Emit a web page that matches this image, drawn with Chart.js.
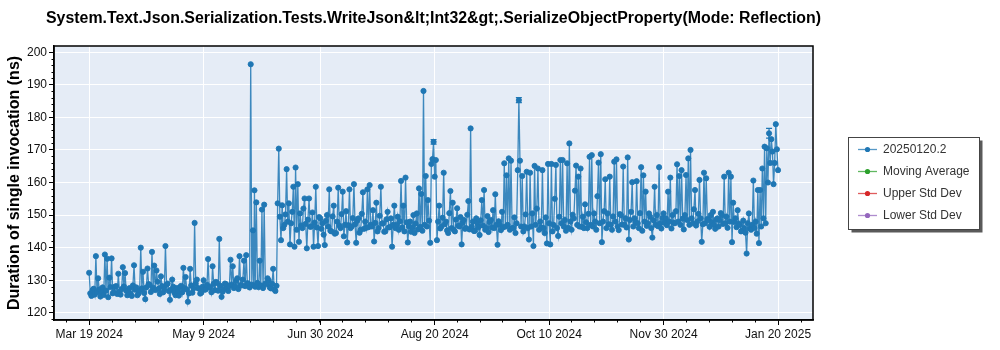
<!DOCTYPE html>
<html lang="en">
<head>
<meta charset="UTF-8">
<title>SerializeObjectProperty</title>
<script src="https://cdn.jsdelivr.net/npm/chart.js@4.4.1/dist/chart.umd.min.js"></script>
<style>
  html, body { margin: 0; padding: 0; background: #ffffff; }
</style>
</head>
<body>
<canvas id="perfChart" width="1000" height="350"></canvas>
<script>
// Benchmark results in ns, one array per month, one entry per day.
// Each entry lists that day's runs in order.
const mar2024 = [[132.3, 126.0], [125.2, 127.0], [127.4, 125.6], [137.4, 126.3], [130.6, 127.2], [125.0, 126.4], [127.8, 125.5], [137.9, 126.8], [136.6, 124.8], [130.8, 127.9],
  [136.7, 126.0], [126.4, 128.0], [128.2, 125.8]];
const apr2024 = [[132.0, 126.5], [125.6, 127.3], [134.0, 128.1], [132.2, 126.8], [125.4, 127.0], [127.6, 125.9], [125.2, 128.4], [134.6, 127.1], [127.8, 125.4], [125.9, 126.9],
  [140.0, 127.5], [132.6, 126.1], [124.2, 127.8], [133.6, 128.8], [128.6, 126.4], [138.7, 127.7], [134.5, 127.0], [133.0, 129.6], [127.4, 125.8], [131.2, 128.2],
  [126.3, 127.4], [140.5, 128.6], [129.0, 126.7], [124.0, 127.1], [130.2, 128.0], [126.2, 125.4], [127.6, 126.5], [125.3, 127.9], [128.3, 126.3], [133.8, 127.6]];
const may2024 = [[131.0, 127.2], [123.4, 126.0], [133.5, 128.4], [126.2, 127.5], [147.6, 129.0], [130.2, 127.6], [127.4, 125.9], [126.2, 128.0], [130.0, 127.1], [127.2, 128.6],
  [136.5, 127.8], [128.0, 126.3], [134.3, 128.9], [127.0, 129.5], [129.2, 126.8], [142.7, 128.3], [124.9, 126.5], [127.3, 129.0], [128.8, 127.4], [126.7, 128.2],
  [136.3, 128.7], [134.3, 127.6], [128.2, 129.8], [130.6, 127.3], [137.4, 128.5], [128.4, 130.2], [136.0, 128.2], [137.7, 129.1], [128.9, 127.8], [196.3, 128.6],
  [145.3, 128.4, 157.6]];
const jun2024 = [[128.0, 153.9], [129.2, 127.9], [136.0, 128.4], [151.7, 127.6], [153.2, 129.0], [128.8, 130.6], [130.0, 127.8], [127.5, 128.9], [133.5, 127.2], [126.7, 128.3],
  [153.6, 170.4], [149.5, 142.3], [153.0, 146.0], [147.0, 150.2], [164.1, 148.0], [153.6, 141.0], [147.5, 151.0], [158.7, 140.3], [164.6, 145.5], [159.5, 141.8],
  [150.5, 146.8], [146.0, 152.0], [155.1, 147.3], [139.8, 148.6], [155.1, 146.4], [146.5, 150.8], [140.3, 147.7], [158.7, 146.2], [140.5, 149.4], [149.0, 145.8]];
const jul2024 = [[147.5, 144.0], [140.8, 148.2], [150.0, 146.5], [157.9, 145.2], [145.0, 149.6], [152.9, 144.3], [144.5, 148.0], [158.4, 146.8], [146.0, 150.3], [157.2, 143.5],
  [147.0, 151.2], [141.6, 146.9], [157.9, 146.0], [146.5, 149.1], [159.5, 147.2], [141.5, 148.3], [149.0, 144.6], [145.5, 150.4], [157.0, 145.8], [148.0, 146.1],
  [157.9, 146.3], [159.2, 147.0], [146.5, 151.5], [141.9, 147.6], [153.8, 145.0], [146.0, 149.8], [158.7, 147.4], [147.5, 144.9], [145.0, 148.7], [151.0, 146.2],
  [146.3, 149.0]];
const aug2024 = [[140.3, 147.0], [152.9, 146.0], [147.0, 149.5], [145.5, 148.1], [160.5, 146.2], [152.9, 145.0], [161.5, 147.8], [141.6, 146.6], [148.0, 144.9], [146.2, 150.0],
  [144.5, 147.4], [150.5, 145.6], [158.2, 146.4], [156.5, 145.2], [188.1, 147.0], [162.0, 146.5], [154.6, 148.3], [141.5, 165.7], [167.2, 172.5], [161.8, 166.9],
  [142.3, 148.0], [152.9, 145.9], [146.5, 149.2], [163.0, 147.2], [148.0, 145.3], [144.5, 150.6], [157.4, 146.0], [153.8, 145.5], [145.0, 148.6], [152.1, 146.8],
  [146.5, 149.4]];
const sep2024 = [[141.0, 147.6], [148.5, 145.8], [146.0, 150.1], [154.3, 145.6], [176.6, 146.5], [148.0, 145.1], [145.2, 149.0], [147.5, 146.3], [143.9, 148.4], [154.6, 146.8],
  [157.7, 145.5], [146.0, 149.7], [144.8, 147.9], [148.5, 146.2], [151.5, 146.0], [156.4, 147.0], [140.9, 148.1], [147.0, 145.4], [151.0, 146.2], [165.9, 146.5],
  [162.2, 147.0], [167.4, 145.5], [166.7, 146.0], [146.0, 149.3], [144.5, 147.5], [163.8, 185.3], [166.7, 146.5], [162.0, 145.0], [146.5, 150.2], [163.3, 146.0]];
const oct2024 = [[142.5, 163.0], [146.5, 150.5], [140.5, 165.1], [147.0, 152.0], [164.3, 145.5], [148.0, 146.2], [163.8, 146.0], [144.5, 149.3], [141.3, 165.7], [147.5, 141.0],
  [165.7, 145.0], [147.0, 155.0], [165.4, 146.0], [143.6, 149.5], [166.9, 147.5], [166.9, 146.5], [148.5, 145.2], [165.9, 146.1], [172.0, 148.0], [145.5, 150.1],
  [149.0, 157.5], [165.2, 147.0], [161.8, 146.5], [164.3, 146.4], [149.5, 146.0], [153.3, 147.8], [146.0, 150.4], [167.9, 147.0], [168.4, 146.5], [150.5, 148.0],
  [145.5, 155.8]];
const nov2024 = [[166.1, 147.5], [168.7, 141.7], [148.0, 151.2], [161.0, 146.0], [150.5, 147.2], [161.8, 147.0], [145.5, 149.6], [166.4, 148.0], [167.1, 146.5], [145.4, 150.3],
  [150.0, 147.1], [164.9, 147.0], [149.0, 146.2], [167.7, 142.5], [148.5, 151.0], [160.1, 146.5], [149.0, 147.8], [160.4, 147.5], [146.0, 150.6], [164.7, 145.2],
  [162.2, 148.0], [157.2, 146.7], [147.5, 150.5], [149.5, 146.0], [143.1, 148.4], [158.7, 147.0], [150.0, 146.6], [164.7, 147.5], [145.9, 149.1], [150.5, 147.6]];
const dec2024 = [[149.0, 146.9], [157.2, 148.0], [161.5, 145.9], [150.0, 147.6], [147.5, 151.2], [165.6, 148.0], [162.0, 147.0], [163.8, 148.9], [145.6, 150.0], [162.3, 148.5],
  [167.4, 147.0], [170.0, 149.0], [147.5, 151.8], [157.7, 146.8], [148.0, 150.4], [160.8, 149.0], [141.8, 147.2], [163.0, 147.5], [161.3, 148.8], [148.5, 146.4],
  [150.0, 147.8], [151.0, 147.0], [145.8, 148.6], [149.0, 146.5], [148.5, 150.6], [150.0, 147.3], [161.8, 147.5], [149.5, 146.1], [163.0, 148.0], [161.8, 141.7],
  [153.8, 147.9]];
const jan2025 = [[149.0, 146.3], [151.5, 147.4], [147.0, 145.0], [145.2, 148.3], [146.0, 144.6], [138.2, 147.5], [150.5, 145.9], [145.5, 147.0], [160.6, 146.0], [148.0, 144.3],
  [157.7, 141.4], [157.7, 146.5], [164.3, 149.0], [171.0, 147.5], [170.5, 160.0], [175.1, 166.0], [173.3, 169.5], [159.5, 166.0], [177.9, 170.2], [163.8]];

// first day covered by each month array
const monthStarts = ['2024-03-19', '2024-04-01', '2024-05-01', '2024-06-01', '2024-07-01', '2024-08-01',
  '2024-09-01', '2024-10-01', '2024-11-01', '2024-12-01', '2025-01-01'];
const monthRuns = [mar2024, apr2024, may2024, jun2024, jul2024, aug2024, sep2024, oct2024, nov2024, dec2024, jan2025];

// runs whose spread is wide enough to show
const errorBars = [
  { value: 172.5, err: 0.7 },
  { value: 185.3, err: 0.8 },
  { value: 175.1, err: 1.5 }
];

const tickDates = ['2024-03-19', '2024-05-09', '2024-06-30', '2024-08-20', '2024-10-10', '2024-11-30', '2025-01-20'];
const tickLabels = ['Mar 19 2024', 'May 9 2024', 'Jun 30 2024', 'Aug 20 2024', 'Oct 10 2024', 'Nov 30 2024', 'Jan 20 2025'];
const yTicks = [120, 130, 140, 150, 160, 170, 180, 190, 200];

const chartTitle = 'System.Text.Json.Serialization.Tests.WriteJson&lt;Int32&gt;.SerializeObjectProperty(Mode: Reflection)';
const yTitle = 'Duration of single invocation (ns)';
const FONT = '"Liberation Sans", Arial, sans-serif';
const DAY = 86400000;

function toTime(d) { return Date.parse(d + 'T00:00:00Z'); }

const points = [];
monthStarts.forEach(function (start, m) {
  const t0 = toTime(start);
  monthRuns[m].forEach(function (runs, i) {
    runs.forEach(function (r, k) {
      points.push({ x: t0 + i * DAY + k * DAY / runs.length, y: r });
    });
  });
});

const plotDecor = {
  id: 'plotDecor',
  beforeDraw(chart) {
    const a = chart.chartArea, ctx = chart.ctx;
    ctx.save();
    ctx.fillStyle = '#e5ecf6';
    ctx.fillRect(a.left, a.top, a.right - a.left, a.bottom - a.top);
    ctx.restore();
  },
  afterDatasetsDraw(chart) {
    const ctx = chart.ctx, xs = chart.scales.x, ys = chart.scales.y;
    ctx.save();
    ctx.strokeStyle = '#1f77b4';
    ctx.lineWidth = 1.2;
    errorBars.forEach(function (e) {
      const p = points.find(function (pt) { return pt.y === e.value; });
      if (!p) return;
      const x = xs.getPixelForValue(p.x);
      const y1 = ys.getPixelForValue(e.value - e.err);
      const y2 = ys.getPixelForValue(e.value + e.err);
      ctx.beginPath();
      ctx.moveTo(x, y1); ctx.lineTo(x, y2);
      ctx.moveTo(x - 3, y1); ctx.lineTo(x + 3, y1);
      ctx.moveTo(x - 3, y2); ctx.lineTo(x + 3, y2);
      ctx.stroke();
    });
    ctx.restore();
  },
  afterDraw(chart) {
    const a = chart.chartArea, ctx = chart.ctx, xs = chart.scales.x, ys = chart.scales.y;
    ctx.save();

    // frame around the data area
    ctx.strokeStyle = '#000';
    ctx.lineWidth = 1.5;
    ctx.strokeRect(a.left, a.top, a.right - a.left, a.bottom - a.top);

    // minor ticks
    ctx.lineWidth = 1;
    ctx.beginPath();
    for (let v = 118; v <= 201; v += 2) {
      if (v % 10 === 0) continue;
      const y = Math.round(ys.getPixelForValue(v)) + 0.5;
      ctx.moveTo(a.left - 2.5, y); ctx.lineTo(a.left, y);
    }
    const majors = tickDates.map(function (d) { return xs.getPixelForValue(toTime(d)); });
    const step = (majors[majors.length - 1] - majors[0]) / (majors.length - 1) / 5;
    for (let x = majors[0] - step * 10; x < a.right; x += step) {
      if (x <= a.left) continue;
      const nearMajor = majors.some(function (m) { return Math.abs(m - x) < 1; });
      if (nearMajor) continue;
      const px = Math.round(x) + 0.5;
      ctx.moveTo(px, a.bottom); ctx.lineTo(px, a.bottom + 2.5);
    }
    ctx.stroke();

    // title
    ctx.fillStyle = '#000';
    ctx.font = 'bold 16px ' + FONT;
    ctx.textAlign = 'center';
    ctx.textBaseline = 'middle';
    ctx.fillText(chartTitle, (a.left + a.right) / 2, 19, 775);

    // legend box with drop shadow
    const bx = 848.5, by = 137.5, bw = 131, bh = 92;
    ctx.fillStyle = '#5a5a5a';
    ctx.fillRect(bx + 3, by + 3, bw, bh);
    ctx.fillStyle = '#fff';
    ctx.fillRect(bx, by, bw, bh);
    ctx.strokeStyle = '#444';
    ctx.lineWidth = 1;
    ctx.strokeRect(bx, by, bw, bh);
    ctx.font = '12px ' + FONT;
    ctx.textAlign = 'left';
    chart.data.datasets.forEach(function (ds, i) {
      const y = 149.5 + i * 22;
      ctx.strokeStyle = ds.legendColor;
      ctx.globalAlpha = 0.75;
      ctx.lineWidth = 1.3;
      ctx.beginPath();
      ctx.moveTo(858, y); ctx.lineTo(877, y);
      ctx.stroke();
      ctx.globalAlpha = 1;
      ctx.fillStyle = ds.legendColor;
      ctx.beginPath();
      ctx.arc(867.5, y, 2.6, 0, Math.PI * 2);
      ctx.fill();
      ctx.fillStyle = '#333';
      ctx.fillText(ds.label, 883, y + 0.5);
    });
    ctx.restore();
  }
};

const ctx = document.getElementById('perfChart').getContext('2d');
const chart = new Chart(ctx, {
  type: 'line',
  data: {
    datasets: [
      {
        label: '20250120.2',
        data: points,
        legendColor: '#1f77b4',
        borderColor: 'rgba(31, 119, 180, 0.85)',
        borderWidth: 1.3,
        pointRadius: 2.6,
        pointBorderWidth: 1,
        pointBackgroundColor: '#1f77b4',
        pointBorderColor: 'rgba(31, 119, 180, 0.9)',
        tension: 0
      },
      { label: 'Moving Average', data: [], legendColor: '#2ca02c', borderColor: '#2ca02c' },
      { label: 'Upper Std Dev', data: [], legendColor: '#d62728', borderColor: '#d62728' },
      { label: 'Lower Std Dev', data: [], legendColor: '#9467bd', borderColor: '#9467bd' }
    ]
  },
  options: {
    responsive: false,
    animation: false,
    devicePixelRatio: 1,
    layout: { padding: { top: 46, right: 187, bottom: 0, left: 0 } },
    plugins: {
      legend: { display: false },
      tooltip: { enabled: false },
      title: { display: false }
    },
    scales: {
      x: {
        type: 'linear',
        min: Date.parse('2024-03-03T08:00:00Z'),
        max: Date.parse('2025-02-04T14:00:00Z'),
        afterBuildTicks: function (s) { s.ticks = tickDates.map(function (d) { return { value: toTime(d) }; }); },
        afterFit: function (s) { s.height = 30; },
        ticks: {
          autoSkip: false,
          maxRotation: 0,
          padding: 2,
          color: '#111',
          font: { family: FONT, size: 12 },
          callback: function (v, i) { return tickLabels[i]; }
        },
        grid: { color: '#ffffff', lineWidth: 1, tickColor: '#000', tickLength: 5 },
        border: { display: true, color: '#000', width: 1.5 }
      },
      y: {
        min: 117.8,
        max: 201.9,
        afterBuildTicks: function (s) { s.ticks = yTicks.map(function (v) { return { value: v }; }); },
        afterFit: function (s) { s.width = 54; },
        ticks: {
          padding: 2,
          color: '#111',
          font: { family: FONT, size: 12 }
        },
        title: {
          display: true,
          text: yTitle,
          color: '#000',
          font: { family: FONT, size: 16, weight: 'bold' },
          padding: { top: 5, bottom: 0 }
        },
        grid: { color: '#ffffff', lineWidth: 1, tickColor: '#000', tickLength: 5 },
        border: { display: true, color: '#000', width: 1.5 }
      }
    }
  },
  plugins: [plotDecor]
});
</script>
</body>
</html>
